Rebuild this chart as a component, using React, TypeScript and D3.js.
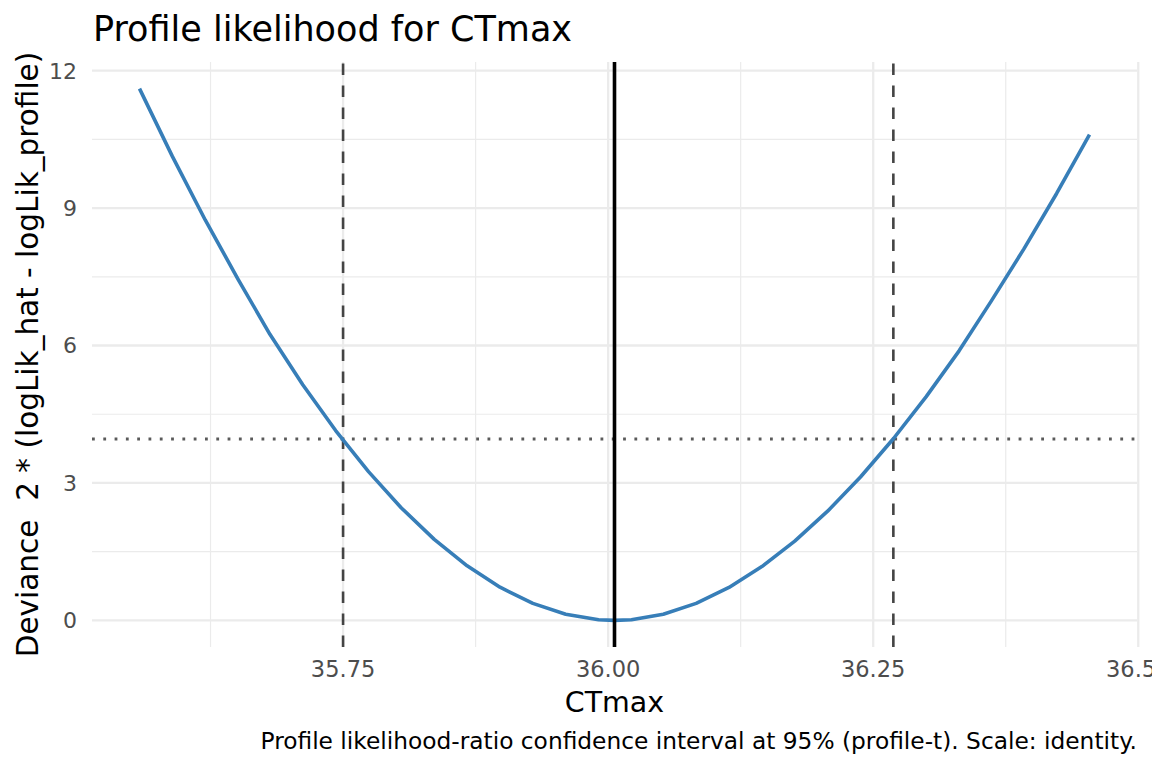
import React, { useEffect, useRef } from "react";
import * as d3 from "d3";

// profile points
const ctmax = [
  35.558, 35.589, 35.62, 35.651, 35.681, 35.712, 35.743, 35.774, 35.805, 35.836,
  35.867, 35.898, 35.929, 35.96, 35.991, 36.006, 36.022, 36.052, 36.083, 36.114,
  36.145, 36.176, 36.207, 36.238, 36.269, 36.3, 36.331, 36.361, 36.392, 36.423, 36.454,
];
const deviance = [
  11.608, 10.128, 8.74, 7.446, 6.244, 5.144, 4.145, 3.248, 2.455, 1.769,
  1.192, 0.724, 0.372, 0.135, 0.015, 0, 0.015, 0.136, 0.372, 0.72,
  1.175, 1.731, 2.384, 3.131, 3.965, 4.885, 5.884, 6.958, 8.105, 9.319, 10.601,
];

const estimate = 36.006;
const ciBounds = [35.75, 36.269];
const threshold = 3.96;

const xTicks = [35.75, 36.0, 36.25, 36.5];
const xTickLabels = ["35.75", "36.00", "36.25", "36.50"];
const xMinor = [35.625, 35.875, 36.125, 36.375];
const yTicks = [0, 3, 6, 9, 12];
const yMinor = [1.5, 4.5, 7.5, 10.5];

const W = 1152;
const H = 768;
const FONT = "DejaVu Sans, Liberation Sans, sans-serif";

function ProfilePlot() {
  const svgRef = useRef<SVGSVGElement>(null);

  useEffect(() => {
    const svg = d3.select(svgRef.current);
    svg.selectAll("*").remove();

    const left = 92;
    const right = 1137;
    const top = 62;
    const bottom = 647;

    // ggplot-style 5% expansion
    const [x0, x1] = d3.extent(ctmax) as [number, number];
    const xPad = (x1 - x0) * 0.05;
    const yMax = d3.max(deviance) as number;
    const yPad = yMax * 0.05;

    const x = d3.scaleLinear().domain([x0 - xPad, x1 + xPad]).range([left, right]);
    const y = d3.scaleLinear().domain([-yPad, yMax + yPad]).range([bottom, top]);

    const grid = svg.append("g");
    const hLines = (vals: number[], w: number) =>
      grid
        .selectAll(null)
        .data(vals)
        .enter()
        .append("line")
        .attr("x1", left)
        .attr("x2", right)
        .attr("y1", (d) => y(d))
        .attr("y2", (d) => y(d))
        .attr("stroke", "#ebebeb")
        .attr("stroke-width", w);
    const vLines = (vals: number[], w: number) =>
      grid
        .selectAll(null)
        .data(vals)
        .enter()
        .append("line")
        .attr("x1", (d) => x(d))
        .attr("x2", (d) => x(d))
        .attr("y1", top)
        .attr("y2", bottom)
        .attr("stroke", "#ebebeb")
        .attr("stroke-width", w);
    hLines(yMinor, 1.2);
    vLines(xMinor, 1.2);
    hLines(yTicks, 2.3);
    vLines(xTicks, 2.3);

    // threshold line
    svg
      .append("line")
      .attr("x1", left)
      .attr("x2", right)
      .attr("y1", y(threshold))
      .attr("y2", y(threshold))
      .attr("stroke", "#5a5a5a")
      .attr("stroke-width", 2.8)
      .attr("stroke-dasharray", "2.8,8.5");

    // CI bounds
    svg
      .selectAll(".ci")
      .data(ciBounds)
      .enter()
      .append("line")
      .attr("x1", (d) => x(d))
      .attr("x2", (d) => x(d))
      .attr("y1", bottom)
      .attr("y2", top)
      .attr("stroke", "#444444")
      .attr("stroke-width", 2.6)
      .attr("stroke-dasharray", "11.5,10.5");

    const line = d3
      .line<number>()
      .x((d, i) => x(ctmax[i]))
      .y((d) => y(d));

    svg
      .append("path")
      .datum(deviance)
      .attr("d", line)
      .attr("fill", "none")
      .attr("stroke", "#377EB8")
      .attr("stroke-width", 3.6)
      .attr("stroke-linejoin", "round");

    // estimate
    svg
      .append("line")
      .attr("x1", x(estimate))
      .attr("x2", x(estimate))
      .attr("y1", top)
      .attr("y2", bottom)
      .attr("stroke", "#000")
      .attr("stroke-width", 3.6);

    // axis labels
    svg
      .selectAll(".ylab")
      .data(yTicks)
      .enter()
      .append("text")
      .attr("x", 77)
      .attr("y", (d) => y(d))
      .attr("dy", "0.36em")
      .attr("text-anchor", "end")
      .style("font-family", FONT)
      .style("font-size", "22px")
      .style("fill", "#4d4d4d")
      .text((d) => String(d));

    svg
      .selectAll(".xlab")
      .data(xTicks)
      .enter()
      .append("text")
      .attr("x", (d) => x(d))
      .attr("y", 677)
      .attr("text-anchor", "middle")
      .style("font-family", FONT)
      .style("font-size", "22.5px")
      .style("fill", "#4d4d4d")
      .text((d, i) => xTickLabels[i]);

    svg
      .append("text")
      .attr("x", (left + right) / 2)
      .attr("y", 712)
      .attr("text-anchor", "middle")
      .style("font-family", FONT)
      .style("font-size", "28.5px")
      .text("CTmax");

    svg
      .append("text")
      .attr("transform", `translate(38,${(top + bottom) / 2}) rotate(-90)`)
      .attr("text-anchor", "middle")
      .style("font-family", FONT)
      .style("font-size", "29.5px")
      .style("white-space", "pre")
      .text("Deviance  2 * (logLik_hat - logLik_profile)");

    svg
      .append("text")
      .attr("x", 93)
      .attr("y", 41)
      .style("font-family", FONT)
      .style("font-size", "35px")
      .text("Profile likelihood for CTmax");

    svg
      .append("text")
      .attr("x", right)
      .attr("y", 749)
      .attr("text-anchor", "end")
      .style("font-family", FONT)
      .style("font-size", "23.3px")
      .text("Profile likelihood-ratio confidence interval at 95% (profile-t). Scale: identity.");
  }, []);

  return (
    <div style={{ position: "absolute", left: 0, top: 0, width: W, height: H, background: "#fff" }}>
      <svg ref={svgRef} width={W} height={H} style={{ display: "block", overflow: "hidden" }}></svg>
    </div>
  );
}

export default function App() {
  return <ProfilePlot />;
}
